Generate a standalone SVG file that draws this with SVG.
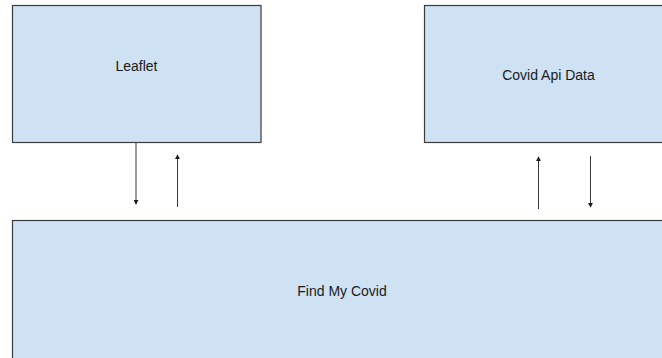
<svg xmlns="http://www.w3.org/2000/svg" width="662" height="358" viewBox="0 0 662 358">
<style>
.box{fill:#cfe2f3;stroke:#3b3b3b;stroke-width:1.2}
.lbl{font-family:"Liberation Sans",Arial,sans-serif;font-size:14px;fill:#1a1a1a;text-anchor:middle}
.conn{stroke:#3a3a3a;stroke-width:1;fill:none;marker-end:url(#ah)}
</style>
<defs>
<marker id="ah" viewBox="0 0 6 6" refX="5" refY="3" markerWidth="5" markerHeight="5" markerUnits="userSpaceOnUse" orient="auto">
<path d="M0,0 L6,3 L0,6 z" fill="#1a1a1a"/>
</marker>
</defs>
<rect width="662" height="358" fill="#ffffff"/>
<g id="leaflet">
<rect class="box" x="12.5" y="5.5" width="248.5" height="137"/>
<text class="lbl" x="136.5" y="71">Leaflet</text>
</g>
<g id="covid-api-data">
<rect class="box" x="424.5" y="5.5" width="250" height="137"/>
<text class="lbl" x="548.5" y="79.5">Covid Api Data</text>
</g>
<g id="find-my-covid">
<rect class="box" x="12.5" y="220.5" width="670" height="150"/>
<text class="lbl" x="342" y="296">Find My Covid</text>
</g>
<g id="connectors">
<line class="conn" x1="136" y1="143" x2="136" y2="204"/>
<line class="conn" x1="177.5" y1="207" x2="177.5" y2="155"/>
<line class="conn" x1="538.5" y1="209" x2="538.5" y2="157"/>
<line class="conn" x1="590.5" y1="156" x2="590.5" y2="207"/>
</g>
</svg>
